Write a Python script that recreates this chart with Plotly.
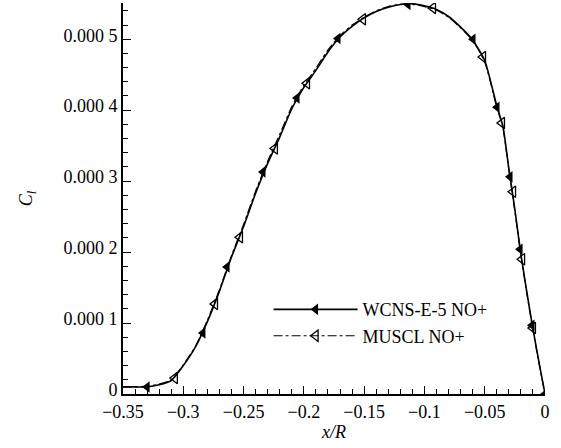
import plotly.graph_objects as go

# Dense curve samples (x/R, C_l in units of 1e-4)
wcns_x = [-0.35, -0.34, -0.33, -0.32, -0.31, -0.30, -0.29, -0.28, -0.27, -0.26, -0.25,
          -0.24, -0.23, -0.22, -0.21, -0.20, -0.19, -0.18, -0.17, -0.16, -0.15, -0.14,
          -0.13, -0.12, -0.11, -0.10, -0.09, -0.08, -0.07, -0.06, -0.05, -0.04, -0.035,
          -0.03, -0.025, -0.02, -0.015, -0.01, -0.005, 0.0]
wcns_y = [0.10, 0.10, 0.10, 0.13, 0.19, 0.40, 0.66, 1.02, 1.45, 1.93, 2.36,
          2.83, 3.25, 3.62, 4.02, 4.32, 4.56, 4.82, 5.03, 5.18, 5.30, 5.39,
          5.45, 5.49, 5.50, 5.47, 5.42, 5.32, 5.17, 4.99, 4.70, 4.06, 3.78,
          3.18, 2.60, 1.97, 1.43, 0.92, 0.45, 0.0]
muscl_x = wcns_x
muscl_y = [0.10, 0.10, 0.11, 0.14, 0.20, 0.41, 0.67, 1.04, 1.47, 1.95, 2.39,
           2.86, 3.28, 3.66, 4.05, 4.35, 4.59, 4.85, 5.05, 5.20, 5.31, 5.40,
           5.46, 5.49, 5.49, 5.46, 5.41, 5.31, 5.16, 4.98, 4.68, 4.04, 3.76,
           3.16, 2.58, 1.95, 1.41, 0.90, 0.44, 0.0]

# Marker positions
wcns_mx = [-0.330, -0.2837, -0.2637, -0.2339, -0.2057, -0.1717, -0.1136, -0.0597,
           -0.0398, -0.029, -0.0207, -0.0108, 0.0]
wcns_my = [0.10, 0.86, 1.79, 3.13, 4.17, 5.01, 5.49, 5.00, 4.04, 3.06, 2.04, 0.97, 0.0]
muscl_mx = [-0.307, -0.2737, -0.253, -0.224, -0.1974, -0.151, -0.0929, -0.0514,
            -0.0357, -0.0265, -0.019, -0.010]
muscl_my = [0.225, 1.27, 2.21, 3.46, 4.38, 5.28, 5.44, 4.75, 3.82, 2.85, 1.90, 0.93]

SCALE = 1e-4
xtick_vals = [-0.35, -0.3, -0.25, -0.2, -0.15, -0.1, -0.05, 0]
xtick_text = ["\u22120.35", "\u22120.3", "\u22120.25", "\u22120.2", "\u22120.15", "\u22120.1", "\u22120.05", "0"]
ytick_vals = [0, 1e-4, 2e-4, 3e-4, 4e-4, 5e-4]
ytick_text = ["0", "0.000 1", "0.000 2", "0.000 3", "0.000 4", "0.000 5"]

FONT = "Liberation Serif"
F18 = dict(family=FONT, size=18, color="black")

def sc(v):
    return [a * SCALE for a in v]

fig = go.Figure()
fig.add_trace(go.Scatter(x=wcns_x, y=sc(wcns_y), mode="lines", showlegend=False,
                         line=dict(color="black", width=1.6, shape="spline", smoothing=0.6)))
fig.add_trace(go.Scatter(x=muscl_x, y=sc(muscl_y), mode="lines", showlegend=False,
                         line=dict(color="black", width=1.2, dash="dashdot", shape="spline", smoothing=0.6)))
fig.add_trace(go.Scatter(x=wcns_mx, y=sc(wcns_my), mode="markers", showlegend=False,
                         marker=dict(symbol="triangle-left", size=10, color="black")))
fig.add_trace(go.Scatter(x=muscl_mx, y=sc(muscl_my), mode="markers", showlegend=False,
                         marker=dict(symbol="triangle-left-open", size=10, color="black",
                                     line=dict(width=1.3, color="black"))))
# legend entries
fig.add_trace(go.Scatter(x=[None], y=[None], mode="lines+markers", name="WCNS-E-5 NO+",
                         line=dict(color="black", width=1.6),
                         marker=dict(symbol="triangle-left", size=10, color="black")))
fig.add_trace(go.Scatter(x=[None], y=[None], mode="lines+markers", name="MUSCL NO+",
                         line=dict(color="black", width=1.2, dash="dashdot"),
                         marker=dict(symbol="triangle-left-open", size=10, color="black",
                                     line=dict(width=1.3, color="black"))))

fig.update_layout(
    width=561, height=448,
    margin=dict(l=123, r=16, t=3, b=54),
    paper_bgcolor="white", plot_bgcolor="white",
    font=F18,
    legend=dict(x=0.345, y=0.263, xanchor="left", yanchor="top",
                bgcolor="rgba(0,0,0,0)", font=F18,
                tracegroupgap=0, itemwidth=84),
    xaxis=dict(range=[-0.35, 0], tickvals=xtick_vals, ticktext=xtick_text, tickfont=F18,
               showgrid=False, zeroline=False, showline=True, linecolor="black", linewidth=2,
               ticks="inside", ticklen=8, tickwidth=1, tickcolor="black",
               minor=dict(dtick=0.01, tick0=0, ticks="inside", ticklen=5, tickwidth=1, tickcolor="black", showgrid=False),
               title=dict(text="<i>x/R</i>", font=F18, standoff=4)),
    yaxis=dict(range=[0, 5.51e-4], tickvals=ytick_vals, ticktext=ytick_text, tickfont=F18,
               ticklabelshift=-4,
               showgrid=False, zeroline=False, showline=True, linecolor="black", linewidth=2,
               ticks="inside", ticklen=8, tickwidth=1, tickcolor="black",
               minor=dict(dtick=2e-5, tick0=0, ticks="inside", ticklen=5, tickwidth=1, tickcolor="black", showgrid=False),
               title=dict(text="<i>C</i><sub><i>l</i></sub>", font=F18, standoff=26)),
)

fig.write_html("out.html")
